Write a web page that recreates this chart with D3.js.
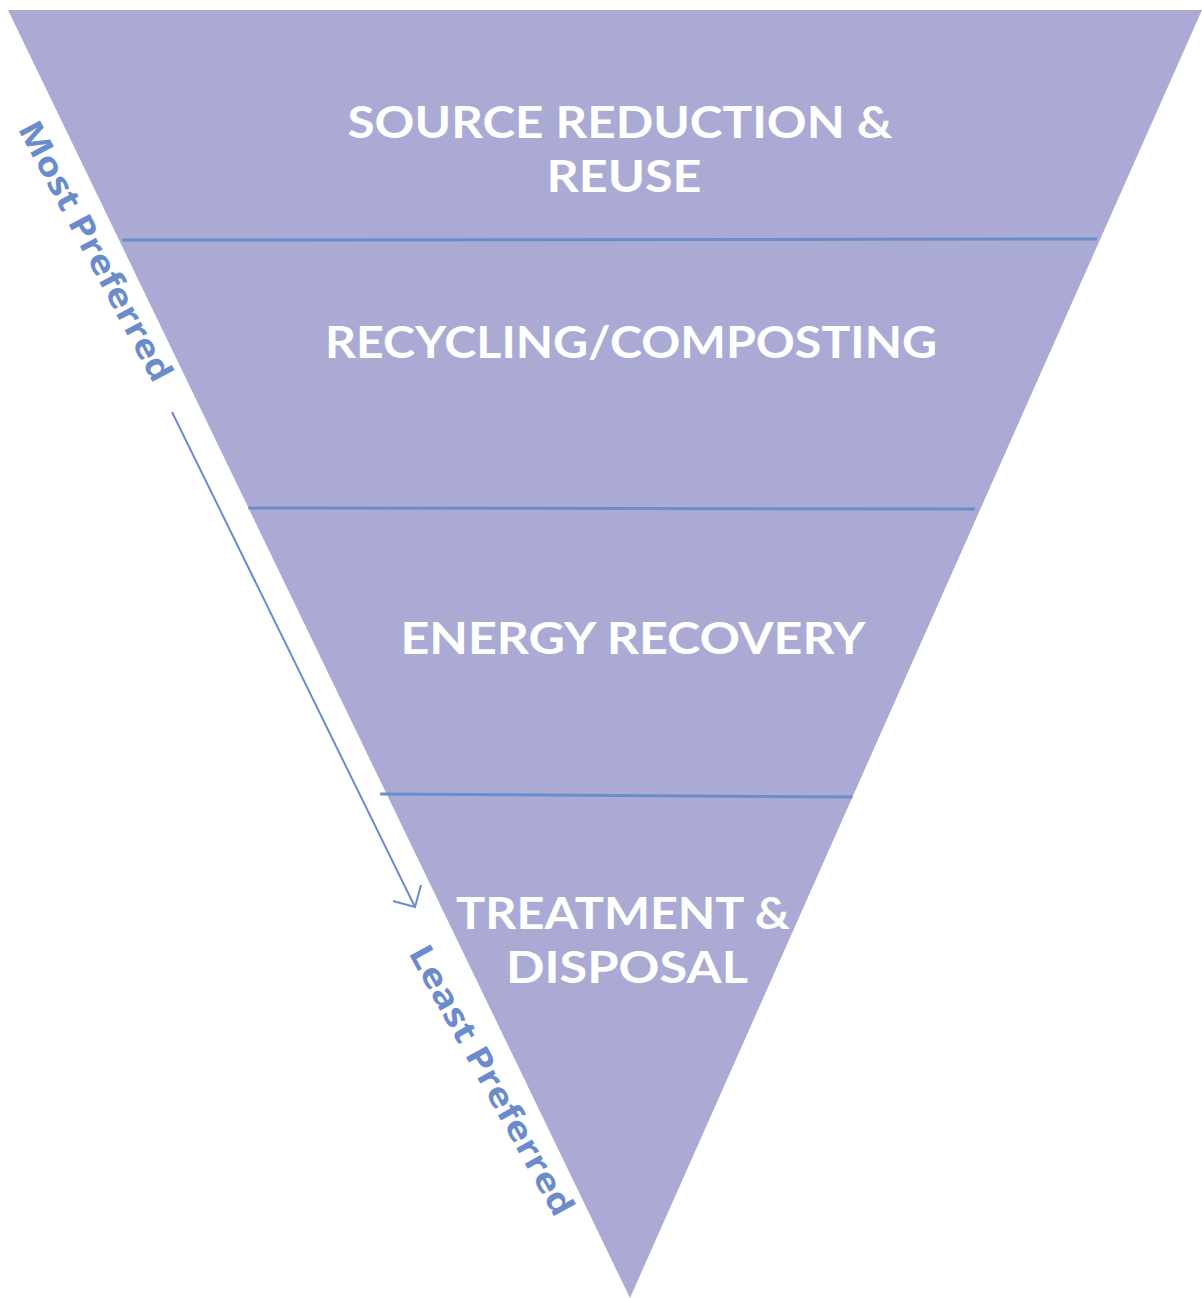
<!DOCTYPE html>
<html>
<head>
<meta charset="utf-8">
<script src="https://cdn.jsdelivr.net/npm/d3@7"></script>
<style>
  html, body { margin: 0; padding: 0; background: #ffffff; }
  svg { display: block; }
</style>
</head>
<body>
<div id="chart"></div>
<script>
// ---- data ----
const levels = ["SOURCE REDUCTION & REUSE", "RECYCLING/COMPOSTING", "ENERGY RECOVERY", "TREATMENT & DISPOSAL"];
const levelLines = [["SOURCE REDUCTION &", "REUSE"], ["RECYCLING/COMPOSTING"], ["ENERGY RECOVERY"], ["TREATMENT &", "DISPOSAL"]];
// boundaries between levels, as a fraction of the pyramid depth (0 = top, 1 = apex)
const boundaries = [0.1786, 0.3866, 0.6095];
// label anchor depth of each level (fraction of depth, first line baseline)
const labelDepth = [0.0994, 0.2702, 0.5, 0.7135];
const endLabels = ["Most Preferred", "Least Preferred"];

// ---- layout ----
const W = 1202, H = 1298;
const fill = "#abaad4", blue = "#6b8ccb";
const y = d3.scaleLinear().domain([0, 1]).range([10, 1298]);
const xLeft = d3.scaleLinear().domain([0, 1]).range([8, 630]);
const xRight = d3.scaleLinear().domain([0, 1]).range([1202, 630]);

const svg = d3.select("#chart").append("svg").attr("width", W).attr("height", H);

// pyramid (inverted triangle)
svg.append("path")
  .attr("d", d3.line()([[xLeft(0), y(0)], [xRight(0), y(0)], [xRight(1), y(1)], [xLeft(1), y(1)]]) + "Z")
  .attr("fill", fill);

// dividers
svg.selectAll("line.div").data(boundaries).join("line")
  .attr("class", "div")
  .attr("x1", (d, i) => xLeft(d) + [3, 0, -7][i])
  .attr("x2", (d, i) => xRight(d) - [3, 6, 1][i])
  .attr("y1", (d, i) => y(d) + [0, 0, -1][i])
  .attr("y2", (d, i) => y(d) + [-1, 1, 2][i])
  .attr("stroke", blue).attr("stroke-width", 3);

// labels (one text element per level, one tspan per line)
const lineWidths = {"SOURCE REDUCTION &": 545, "REUSE": 155, "RECYCLING/COMPOSTING": 612,
  "ENERGY RECOVERY": 465, "TREATMENT &": 334, "DISPOSAL": 242};
const centers = [620, 631, 633, 623];
const g = svg.append("g");
levelLines.forEach((lines, i) => {
  const t = g.append("text")
    .attr("x", centers[i])
    .attr("y", y(labelDepth[i]))
    .attr("text-anchor", "middle")
    .attr("font-family", "Lato, sans-serif")
    .attr("font-weight", 700)
    .attr("font-size", 44)
    .attr("fill", "#ffffff");
  lines.forEach((txt, j) => {
    t.append("tspan")
      .attr("x", centers[i] + (j ? 4 : 0))
      .attr("y", y(labelDepth[i]) + j * 54)
      .attr("textLength", lineWidths[txt])
      .attr("lengthAdjust", "spacingAndGlyphs")
      .text(txt);
  });
});

// side labels
const sides = [
  {t: endLabels[0], cx: 96, cy: 251, a: 62, len: 290},
  {t: endLabels[1], cx: 492, cy: 1080, a: 61, len: 304}
];
sides.forEach(s => {
  svg.append("text")
    .attr("transform", `translate(${s.cx},${s.cy}) rotate(${s.a})`)
    .attr("text-anchor", "middle")
    .attr("dy", "0.36em")
    .attr("font-family", "'Open Sans', sans-serif")
    .attr("font-weight", 700)
    .attr("font-size", 33)
    .attr("fill", blue)
    .attr("textLength", s.len)
    .attr("lengthAdjust", "spacingAndGlyphs")
    .text(s.t);
});

// arrow
svg.append("line").attr("x1", 172).attr("y1", 412).attr("x2", 415).attr("y2", 907)
  .attr("stroke", blue).attr("stroke-width", 2);
svg.append("path").attr("d", d3.line()([[393, 901], [415, 907], [421, 885]]))
  .attr("fill", "none").attr("stroke", blue).attr("stroke-width", 2);
</script>
</body>
</html>
